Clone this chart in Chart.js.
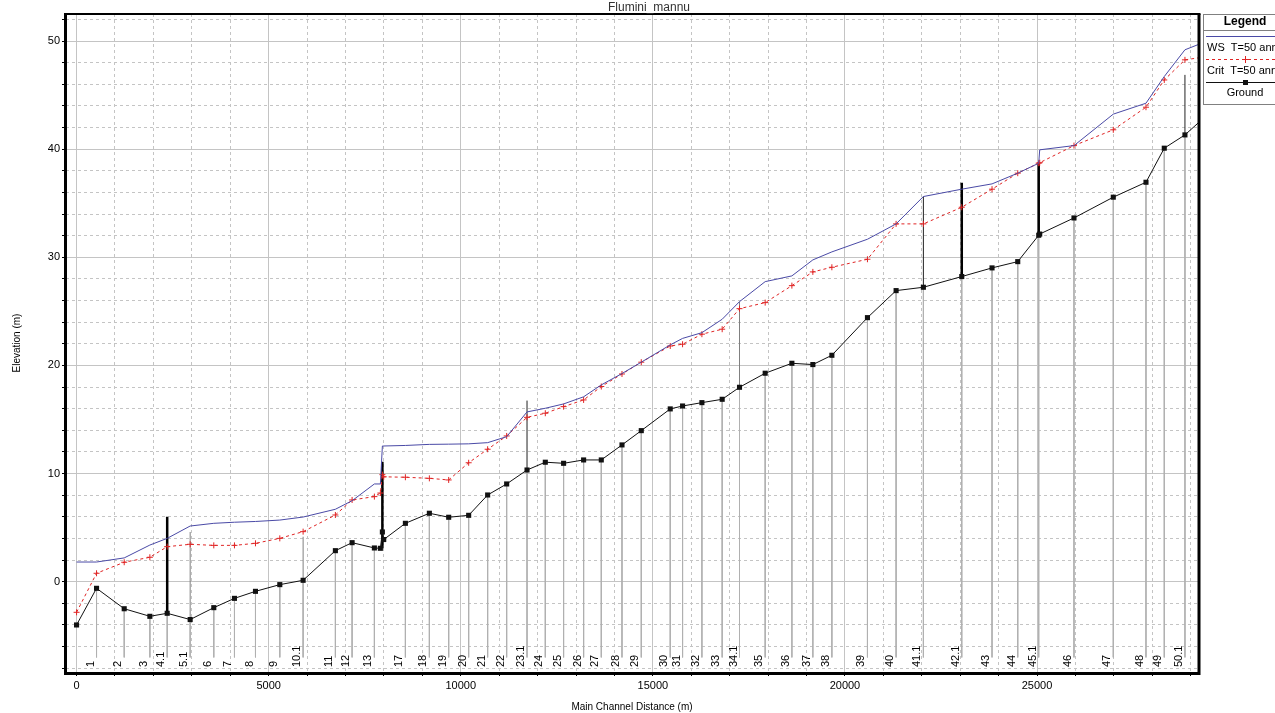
<!DOCTYPE html>
<html><head><meta charset="utf-8">
<script src="https://cdn.jsdelivr.net/npm/chart.js@4/dist/chart.umd.min.js"></script>
<style>html,body{margin:0;padding:0;background:#fff;overflow:hidden}#wrap{position:relative;width:1275px;height:713px}</style>
</head><body><div id="wrap"><canvas id="c"></canvas></div>
<script>
// ---- data ----
const chartTitle = 'Flumini_mannu';
const stationNames = ['0','1','2','3','4.1','5.1','6','7','8','9','10.1','11','12','13','14','15','16','17','18','19','20','21','22','23.1','24','25','26','27','28','29','30','31','32','33','34.1','35','36','37','38','39','40','41.1','42.1','43','44','45.1','45','46','47','48','49','50.1','51'];
const hiddenNames = ['0','14','15','16','45','51'];
const distance = [0,520,1240,1908,2359,2957,3572,4110,4657,5290,5897,6737,7172,7752,7908,7960,7995,8559,9183,9686,10206,10700,11195,11725,12201,12677,13198,13658,14197,14699,15453,15774,16277,16805,17256,17924,18619,19165,19660,20586,21332,22042,23041,23829,24498,25044,25070,25962,26985,27836,28312,28850,29500];
const ground = [-4.0,-0.61,-2.5,-3.2,-2.92,-3.5,-2.4,-1.54,-0.89,-0.27,0.13,2.87,3.61,3.12,3.09,4.6,3.9,5.4,6.33,5.96,6.14,8.02,9.04,10.33,11.05,10.95,11.26,11.26,12.65,13.97,15.98,16.25,16.56,16.87,17.98,19.28,20.2,20.08,20.94,24.42,26.92,27.23,28.22,29.02,29.6,32.04,32.15,33.64,35.56,36.94,40.09,41.32,43.4];
const ws = [1.82,1.82,2.2,3.39,4.01,5.15,5.4,5.5,5.57,5.7,5.98,6.7,7.49,9.04,9.04,12.55,12.55,12.6,12.7,12.72,12.75,12.86,13.41,15.7,16.04,16.44,17.1,18.2,19.25,20.3,21.9,22.5,23.03,24.27,25.9,27.75,28.28,29.76,30.5,31.67,33.09,35.62,36.3,36.79,37.78,38.7,39.94,40.33,43.24,44.25,46.72,49.19,50.1];
const crit = [-2.83,0.78,1.8,2.26,3.24,3.46,3.36,3.36,3.55,4.01,4.63,6.17,7.56,7.87,8.2,9.9,9.7,9.66,9.56,9.41,11.0,12.25,13.48,15.2,15.58,16.19,16.81,18.05,19.21,20.3,21.8,21.96,22.89,23.35,25.25,25.81,27.38,28.65,29.08,29.82,33.09,33.09,34.63,36.3,37.78,38.7,38.75,40.33,41.79,43.88,46.4,48.26,48.6];
// structures drawn as vertical segments
const structX      = [2359, 7960, 23041, 25044, 11725, 22042, 28850, 2957, 5897, 17256];
const structBottom = [-2.92, 3.09, 28.22, 32.04, 10.33, 27.23, 41.32, -3.5, 0.13, 17.98];
const structTop    = [6.0, 11.1, 36.9, 38.7, 16.75, 35.62, 46.87, 4.6, 4.16, 25.9];
const structKind   = ['thick','thick','thick','thick','thin','thin','thin','gray','gray','gray'];
const xMajorTicks = [0,5000,10000,15000,20000,25000];
const yMajorTicks = [0,10,20,30,40,50];
const legendTitle = 'Legend';
const seriesNames = ['WS  T=50 anni','Crit  T=50 anni','Ground'];
const xAxisTitle = 'Main Channel Distance (m)';
const yAxisTitle = 'Elevation (m)';

// ---- styles ----
const FONT = '"Liberation Sans", Arial, sans-serif';
const WS_COLOR = '#4a4aa6', CRIT_COLOR = '#e02424', GROUND_COLOR = '#111';
const GRID_COLOR = '#c4c4c4', XS_COLOR = '#b0b0b0';
const XS_BOTTOM = -7.0;
const X_MIN = -275, X_MAX = 29190, Y_MIN = -8.35, Y_MAX = 52.5;

const xTicks = []; for (let v = 0; v <= 29000; v += 1000) xTicks.push(v);
const yTicks = []; for (let v = -8; v <= 52; v += 2) yTicks.push(v);

const isHidden = n => hiddenNames.includes(n);
const pts = arr => distance.map((d, i) => ({x: d, y: arr[i]}));

const xsData = [];
distance.forEach((d, i) => {
  if (isHidden(stationNames[i])) return;
  xsData.push({x: d, y: ground[i]}, {x: d, y: XS_BOTTOM}, {x: d, y: null});
});
function segs(kind) {
  const out = [];
  structX.forEach((d, i) => {
    if (structKind[i] !== kind) return;
    out.push({x: d, y: structBottom[i]}, {x: d, y: structTop[i]}, {x: d, y: null});
  });
  return out;
}

Chart.defaults.font.family = FONT;
Chart.defaults.color = '#000';

const overlay = {
  id: 'overlay',
  beforeDraw(chart) {
    const c = chart.ctx; c.save(); c.fillStyle = '#fff'; c.fillRect(0, 0, chart.width, chart.height); c.restore();
  },
  afterDraw(chart) {
    const c = chart.ctx, a = chart.chartArea, xs = chart.scales.x;
    c.save();
    // station labels
    c.font = '11px ' + FONT; c.fillStyle = '#000'; c.textAlign = 'left'; c.textBaseline = 'middle';
    stationNames.forEach((n, i) => {
      if (isHidden(n)) return;
      const px = xs.getPixelForValue(distance[i]) - 6;
      c.save(); c.translate(px, a.bottom - 5); c.rotate(-Math.PI / 2); c.fillText(n, 0, 0); c.restore();
    });
    // frame
    c.strokeStyle = '#000';
    c.lineWidth = 3;
    c.beginPath(); c.moveTo(a.left - 0.5, a.top); c.lineTo(a.left - 0.5, a.bottom + 1.5); c.lineTo(a.right + 1, a.bottom + 1.5); c.lineTo(a.right + 1, a.top); c.stroke();
    c.lineWidth = 2;
    c.beginPath(); c.moveTo(a.left - 2, a.top); c.lineTo(a.right + 2.5, a.top); c.stroke();
    // title
    c.font = '12px ' + FONT; c.fillStyle = '#333'; c.textAlign = 'center'; c.textBaseline = 'middle';
    c.fillText(chartTitle, 649, 8);
    // legend
    const lx = a.right + 5, ly = a.top;
    c.strokeStyle = '#808080'; c.lineWidth = 1;
    c.strokeRect(lx + 0.5, ly + 0.5, 90, 90);
    c.beginPath(); c.moveTo(lx, ly + 16.5); c.lineTo(lx + 90, ly + 16.5); c.stroke();
    c.fillStyle = '#000'; c.font = 'bold 12px ' + FONT; c.textAlign = 'center';
    c.fillText(legendTitle, lx + 42, ly + 8);
    const mid = lx + 42;
    // WS
    c.strokeStyle = WS_COLOR; c.lineWidth = 1;
    c.beginPath(); c.moveTo(lx + 3, ly + 22.5); c.lineTo(lx + 90, ly + 22.5); c.stroke();
    c.font = '11px ' + FONT; c.textAlign = 'left'; c.fillStyle = '#000';
    c.fillText(seriesNames[0], lx + 4, ly + 34);
    // Crit
    c.strokeStyle = CRIT_COLOR; c.setLineDash([3, 3]);
    c.beginPath(); c.moveTo(lx + 3, ly + 45.5); c.lineTo(lx + 90, ly + 45.5); c.stroke();
    c.setLineDash([]);
    c.beginPath(); c.moveTo(mid - 3, ly + 45.5); c.lineTo(mid + 3, ly + 45.5); c.moveTo(mid + 0.5, ly + 42); c.lineTo(mid + 0.5, ly + 49); c.stroke();
    c.fillText(seriesNames[1], lx + 4, ly + 57);
    // Ground
    c.strokeStyle = GROUND_COLOR;
    c.beginPath(); c.moveTo(lx + 3, ly + 68.5); c.lineTo(lx + 90, ly + 68.5); c.stroke();
    c.fillStyle = GROUND_COLOR; c.fillRect(mid - 2, ly + 66, 5, 5);
    c.fillStyle = '#000'; c.textAlign = 'center';
    c.fillText(seriesNames[2], mid, ly + 79);
    c.restore();
  }
};

new Chart(document.getElementById('c'), {
  type: 'scatter',
  data: {
    datasets: [
      {label: seriesNames[0], data: pts(ws), showLine: true, borderColor: WS_COLOR, borderWidth: 1, pointRadius: 0, tension: 0},
      {label: seriesNames[1], data: pts(crit), showLine: true, borderColor: CRIT_COLOR, borderWidth: 1, borderDash: [3, 3],
        pointStyle: 'cross', pointRadius: 3, pointBorderColor: CRIT_COLOR, pointBorderWidth: 1, pointBackgroundColor: CRIT_COLOR},
      {label: seriesNames[2], data: pts(ground), showLine: true, borderColor: GROUND_COLOR, borderWidth: 1,
        pointStyle: 'rect', pointRadius: 3.6, pointBackgroundColor: GROUND_COLOR, pointBorderColor: GROUND_COLOR, pointBorderWidth: 0},
      {label: 'thick', data: segs('thick'), showLine: true, spanGaps: false, borderColor: '#000', borderWidth: 2.5, pointRadius: 0},
      {label: 'thin', data: segs('thin'), showLine: true, spanGaps: false, borderColor: '#222', borderWidth: 1, pointRadius: 0},
      {label: 'gray', data: segs('gray'), showLine: true, spanGaps: false, borderColor: '#808080', borderWidth: 1, pointRadius: 0},
      {label: 'xs', data: xsData, showLine: true, spanGaps: false, borderColor: XS_COLOR, borderWidth: 1, pointRadius: 0}
    ]
  },
  options: {
    responsive: true, maintainAspectRatio: false, animation: false, devicePixelRatio: 1,
    layout: {padding: {top: 14, right: 77, left: 0, bottom: 0}},
    plugins: {legend: {display: false}, tooltip: {enabled: false}},
    events: [],
    scales: {
      x: {
        type: 'linear', min: X_MIN, max: X_MAX,
        afterBuildTicks: s => { s.ticks = xTicks.map(v => ({value: v})); },
        afterFit: s => { s.height = 41; },
        ticks: {autoSkip: false, maxRotation: 0, padding: 3, font: {size: 11},
          callback: v => xMajorTicks.includes(v) ? String(v) : ''},
        grid: {color: GRID_COLOR, lineWidth: 1, tickLength: 4, tickColor: '#000'},
        border: {display: false, dash: ctx => (ctx.tick && !xMajorTicks.includes(ctx.tick.value)) ? [3, 3] : []},
        title: {display: true, text: xAxisTitle, font: {size: 10}, padding: {top: 0, bottom: 0}}
      },
      y: {
        type: 'linear', min: Y_MIN, max: Y_MAX,
        afterBuildTicks: s => { s.ticks = yTicks.map(v => ({value: v})); },
        afterFit: s => { s.width = 66; },
        ticks: {autoSkip: false, padding: 2, font: {size: 11},
          callback: v => yMajorTicks.includes(v) ? String(v) : ''},
        grid: {color: GRID_COLOR, lineWidth: 1, tickLength: 4, tickColor: '#000'},
        border: {display: false, dash: ctx => (ctx.tick && !yMajorTicks.includes(ctx.tick.value)) ? [3, 3] : []},
        title: {display: true, text: yAxisTitle, font: {size: 10}, padding: {top: 11, bottom: 0}}
      }
    }
  },
  plugins: [overlay]
});
</script></body></html>
